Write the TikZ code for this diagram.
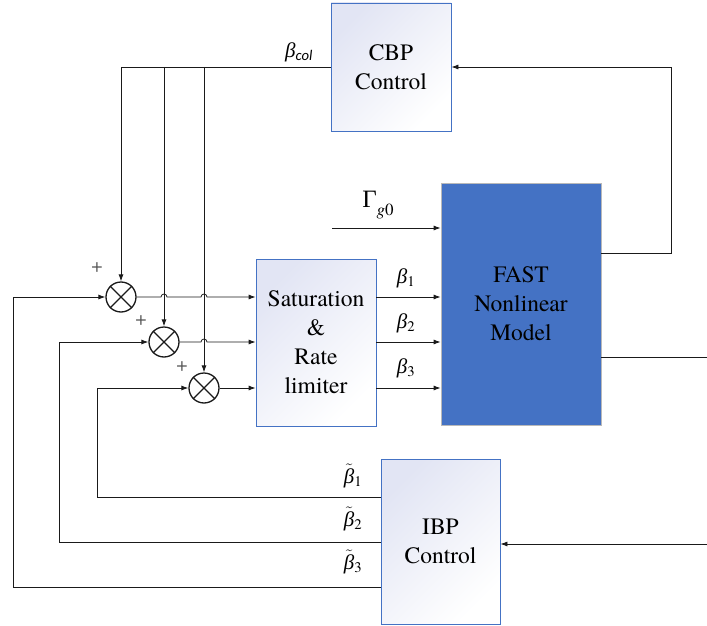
\documentclass[tikz,border=0pt]{standalone}
\usepackage{fontspec}
\setmainfont{texgyretermes}[Extension=.otf, UprightFont=*-regular, ItalicFont=*-italic, BoldFont=*-bold, BoldItalicFont=*-bolditalic]
\newfontfamily\greekfont{LiberationSerif}[Extension=.ttf, UprightFont=*-Regular, ItalicFont=*-Italic]
\newfontfamily\calfont{Carlito}
\usetikzlibrary{arrows.meta,shapes.geometric}
\definecolor{fastblue}{HTML}{4472C4}
\definecolor{boxedge}{HTML}{4472C4}
\definecolor{boxtint}{HTML}{E2E5F4}
\definecolor{linec}{HTML}{1A1A1A}
\definecolor{plusc}{HTML}{555555}
\newcommand\bsym{{\greekfont\itshape β}}
\newcommand\tbeta[1]{$\tilde{\mbox{\greekfont\itshape β}}$\textsubscript{#1}}
\begin{document}
\begin{tikzpicture}[x=1pt,y=-1pt,
  lightbox/.style={draw=boxedge, line width=0.8pt, top color=boxtint, bottom color=white, shading angle=45,
    inner sep=0pt, align=center, font=\fontsize{23.5}{29}\selectfont},
  fastbox/.style={draw=gray!55, line width=0.8pt, fill=fastblue, inner sep=0pt, align=center,
    font=\fontsize{23.5}{29}\selectfont},
  summer/.style={circle, draw=linec, line width=1.3pt, minimum size=30pt, inner sep=0pt},
  arr/.style={-{Latex[length=7pt,width=5pt]}, line width=0.8pt, draw=linec},
  plain/.style={line width=0.8pt, draw=linec},
  lab/.style={inner sep=0pt, font=\fontsize{21}{21}\selectfont},
  plus/.style={inner sep=0pt, text=plusc, font=\fontsize{20}{20}\selectfont}]
\useasboundingbox (0,0) rectangle (707,626);

\node[lightbox, minimum width=120pt, minimum height=128pt] (cbp) at (391,67) {CBP\\Control};
\node[fastbox, minimum width=160pt, minimum height=242pt] (fast) at (521,304) {FAST\\Nonlinear\\Model};
\node[lightbox, minimum width=120pt, minimum height=167pt] (sat) at (316,342.5) {Saturation\\\&\\Rate\\limiter};
\node[lightbox, minimum width=119pt, minimum height=165pt] (ibp) at (440.5,541.5) {IBP\\Control};

\node[summer] (s1) at (121,297) {};
\node[summer] (s2) at (164,342) {};
\node[summer] (s3) at (204,388) {};
\foreach \s in {s1,s2,s3}
  \draw[linec, line width=1.3pt] (\s.north west) -- (\s.south east) (\s.north east) -- (\s.south west);

% CBP output to summers
\draw[arr] (cbp.west) -| (s1.north);
\draw[arr] (s2.north |- cbp.west) -- (s2.north);
\draw[arr] (s3.north |- cbp.west) -- (s3.north);

% summers to saturation
\draw[arr] (s1.east) -- (161,297) arc[start angle=180,end angle=0,radius=3pt] -- (201,297)
  arc[start angle=180,end angle=0,radius=3pt] -- (s1.east -| sat.west);
\draw[arr] (s2.east) -- (201,342) arc[start angle=180,end angle=0,radius=3pt] -- (s2.east -| sat.west);
\draw[arr] (s3.east) -- (s3.east -| sat.west);

% IBP feedback to summers
\coordinate (c1) at (13,587);
\coordinate (c2) at (59,542);
\coordinate (c3) at (97,497);
\draw[arr] (c1 -| ibp.west) -- (c1) |- (s1.west);
\draw[arr] (c2 -| ibp.west) -- (c2) |- (s2.west);
\draw[arr] (c3 -| ibp.west) -- (c3) |- (s3.west);

% saturation to FAST
\foreach \y in {297,342,388}
  \draw[arr] (sat.east |- 0,\y) -- (fast.west |- 0,\y);

% Gamma input
\coordinate (gin) at (332,228);
\draw[arr] (gin) -- (gin -| fast.west);

% FAST to CBP
\coordinate (fbk) at (671,253);
\draw[arr] (fbk -| fast.east) -- (fbk) |- (cbp.east);

% FAST output
\coordinate (yout) at (707,357);
\draw[plain] (yout -| fast.east) -- (yout);

% input to IBP
\coordinate (ibpin) at (707,544);
\draw[arr] (ibpin) -- (ibpin -| ibp.east);

% labels
\node[lab] (lcol) at (299,52) {\bsym\textsubscript{\calfont\itshape col}};
\node[lab, font=\fontsize{25}{25}\selectfont] (lgam) at (378,205)
  {{\greekfont Γ}\raisebox{-8pt}{\fontsize{17}{17}\selectfont\itshape g\upshape 0}};
\node[lab] (lb1) at (406,278) {\bsym\textsubscript{1}};
\node[lab] (lb2) at (406,323) {\bsym\textsubscript{2}};
\node[lab] (lb3) at (406,368) {\bsym\textsubscript{3}};
\node[lab] (lt1) at (353,476) {\tbeta{1}};
\node[lab] (lt2) at (353,519) {\tbeta{2}};
\node[lab] (lt3) at (353,562) {\tbeta{3}};

\node[plus] (p1) at (97,268) {+};
\node[plus] (p2) at (141,321) {+};
\node[plus] (p3) at (182,367) {+};
\end{tikzpicture}
\end{document}
